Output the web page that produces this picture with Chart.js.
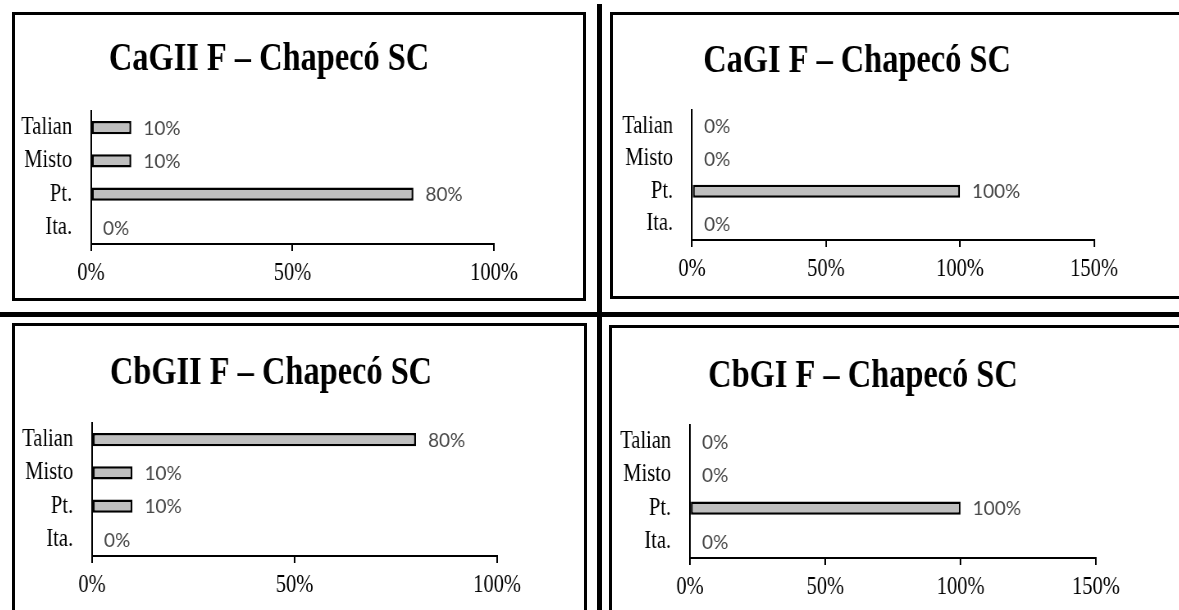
<!DOCTYPE html>
<html>
<head>
<meta charset="utf-8">
<script src="https://cdn.jsdelivr.net/npm/chart.js@4.4.1/dist/chart.umd.min.js"></script>
<style>
html, body { margin: 0; padding: 0; background: #fff; }
body { width: 1179px; height: 610px; position: relative; overflow: hidden; }
.box { position: absolute; border: 3px solid #000; box-sizing: border-box; }
.rule { position: absolute; background: #000; }
canvas { position: absolute; transform-origin: 0 0; }
</style>
</head>
<body>
<div class="box" style="left:12px;top:12px;width:574px;height:289px"></div>
<div class="box" style="left:610px;top:12px;width:600px;height:287px"></div>
<div class="box" style="left:12px;top:323px;width:575px;height:400px"></div>
<div class="box" style="left:609px;top:325px;width:600px;height:400px"></div>
<div class="rule" style="left:597px;top:4px;width:5px;height:606px"></div>
<div class="rule" style="left:0;top:312px;width:1179px;height:5px"></div>

<canvas id="caGII"></canvas>
<canvas id="caGI"></canvas>
<canvas id="cbGII"></canvas>
<canvas id="cbGI"></canvas>

<script>
const categories = ['Talian', 'Misto', 'Pt.', 'Ita.'];
const caGIIValues = [10, 10, 80, 0];
const caGIValues = [0, 0, 100, 0];
const cbGIIValues = [80, 10, 10, 0];
const cbGIValues = [0, 0, 100, 0];
const tickLabels = ['0%', '50%', '100%', '150%'];

const SX = 0.82;              // the serif type is set narrow, so each canvas is squeezed horizontally
const serif = "'Liberation Serif', 'Times New Roman', serif";
const TITLE_SIZE = 39.5;

// percentage next to the end of each bar, drawn at normal width
const valueLabels = {
  id: 'valueLabels',
  afterDatasetsDraw(chart) {
    const ctx = chart.ctx;
    const values = chart.data.datasets[0].data;
    ctx.save();
    ctx.fillStyle = '#474747';
    ctx.font = '19px Lato';
    ctx.textBaseline = 'middle';
    chart.getDatasetMeta(0).data.forEach((bar, i) => {
      ctx.save();
      ctx.translate(bar.x + 12 / SX, bar.y + 1);
      ctx.scale(1 / SX, 1);
      ctx.fillText(values[i] + '%', 0, 0);
      ctx.restore();
    });
    ctx.restore();
  }
};

function drawPanel(p) {
  const canvas = document.getElementById(p.id);
  const W = Math.round(p.w / SX), H = p.h;
  canvas.width = W;
  canvas.height = H;
  canvas.style.left = p.x + 'px';
  canvas.style.top = p.y + 'px';
  canvas.style.transform = 'scaleX(' + SX + ')';

  const cx = v => (v - p.x) / SX;
  const plotL = cx(p.plot[0]), plotR = cx(p.plot[1]);
  const plotT = p.plot[2] - p.y, plotB = p.plot[3] - p.y;
  // title is centred over [0, W - padR]; an empty right axis fills the gap up to the plot
  const titleC = cx(p.titleX);
  const padR = W - 2 * titleC;
  const spacer = 2 * titleC - plotR;
  const tTop = (p.titleBase - p.y) - 0.34 * TITLE_SIZE - TITLE_SIZE / 2;
  const tBottom = plotT - tTop - TITLE_SIZE;

  new Chart(canvas, {
    type: 'bar',
    data: {
      labels: categories,
      datasets: [{
        data: p.values,
        backgroundColor: '#bfbfbf',
        borderColor: '#000',
        borderWidth: c => (c.raw === 0 ? 0 : 2.5),
        borderSkipped: false,
        barPercentage: 0.4,
        categoryPercentage: 1
      }]
    },
    options: {
      indexAxis: 'y',
      responsive: false,
      animation: false,
      devicePixelRatio: 1,
      layout: { padding: { left: 0, right: padR, top: 0, bottom: 0 } },
      plugins: {
        legend: { display: false },
        tooltip: { enabled: false },
        title: {
          display: true,
          text: p.title,
          color: '#000',
          font: { family: serif, size: TITLE_SIZE, weight: 'bold', lineHeight: 1 },
          padding: { top: tTop, bottom: tBottom }
        }
      },
      scales: {
        x: {
          min: 0,
          max: p.max,
          ticks: {
            stepSize: 50,
            maxRotation: 0,
            color: '#000',
            padding: 7,
            font: { family: serif, size: 25, lineHeight: 1.2 },
            callback: v => tickLabels[v / 50]
          },
          grid: { drawOnChartArea: false, drawTicks: true, tickLength: 7, color: '#000', lineWidth: 2 },
          border: { display: true, color: '#000', width: 2 },
          afterFit: s => { s.height = H - plotB; }
        },
        y: {
          ticks: { color: '#000', padding: 23, autoSkip: false, font: { family: serif, size: 25 } },
          grid: { display: false, drawTicks: false },
          border: { display: true, color: '#000', width: 2 },
          afterFit: s => { s.width = plotL; }
        },
        spacer: {
          type: 'category',
          axis: 'y',
          position: 'right',
          ticks: { display: false },
          grid: { display: false, drawTicks: false },
          border: { display: false },
          afterFit: s => { s.width = spacer; }
        }
      }
    },
    plugins: [valueLabels]
  });
}

drawPanel({ id: 'caGII', x: 15, y: 15, w: 568, h: 283, plot: [91, 494, 111, 244],
  title: 'CaGII F – Chapecó SC', titleX: 269, titleBase: 73, values: caGIIValues, max: 100 });
drawPanel({ id: 'caGI', x: 613, y: 15, w: 566, h: 281, plot: [692, 1094, 110, 240],
  title: 'CaGI F – Chapecó SC', titleX: 857, titleBase: 75, values: caGIValues, max: 150 });
drawPanel({ id: 'cbGII', x: 15, y: 326, w: 569, h: 284, plot: [92, 497, 423, 556],
  title: 'CbGII F – Chapecó SC', titleX: 271, titleBase: 387, values: cbGIIValues, max: 100 });
drawPanel({ id: 'cbGI', x: 612, y: 328, w: 567, h: 282, plot: [690, 1096, 425, 558],
  title: 'CbGI F – Chapecó SC', titleX: 863, titleBase: 390, values: cbGIValues, max: 150 });
</script>
</body>
</html>
